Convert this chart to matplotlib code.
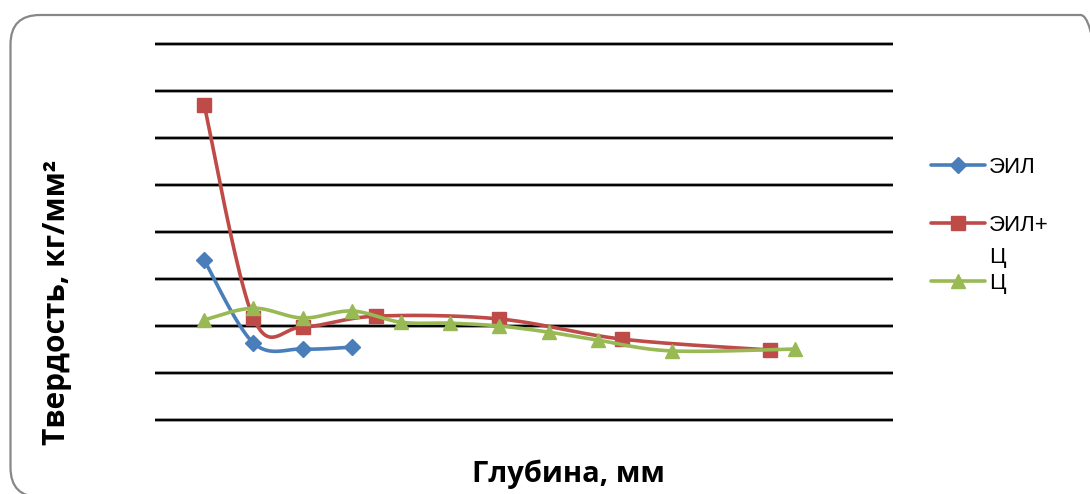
import numpy as np
import matplotlib
matplotlib.use("Agg")
import matplotlib.pyplot as plt
from matplotlib.patches import FancyBboxPatch
from matplotlib.lines import Line2D

# ---- data ----
series_names = ["ЭИЛ", "ЭИЛ+Ц", "Ц"]
eil_depth = [0.05, 0.10, 0.15, 0.20]
eil_hard = [340, 164, 151, 155]
eilc_depth = [0.05, 0.10, 0.15, 0.225, 0.35, 0.475, 0.625]
eilc_hard = [670, 217, 198, 221, 215, 172, 149]
c_depth = [0.05, 0.10, 0.15, 0.20, 0.25, 0.30, 0.35, 0.40, 0.45, 0.525, 0.65]
c_hard = [213, 238, 217, 232, 208, 206, 200, 187, 170, 147, 151]
y_ticks = [0, 100, 200, 300, 400, 500, 600, 700, 800]
x_label = "Глубина, мм"
y_label = "Твердость, кг/мм²"

colors = ["#4a7ebb", "#be4b48", "#98b954"]
markers = ["D", "s", "^"]
msizes = [8.5, 9.5, 10.5]

W, H = 1090, 494
fig = plt.figure(figsize=(W / 100, H / 100), dpi=100)

def fx(px):
    return px / W

def fy(py):
    return (H - py) / H

# outer rounded frame
frame = FancyBboxPatch((fx(10.5), fy(497)), fx(1110) - fx(10.5), fy(15) - fy(497),
                       boxstyle="round,pad=0,rounding_size=0.027",
                       transform=fig.transFigure, fill=False,
                       edgecolor="#878787", linewidth=1.6, clip_on=False,
                       mutation_aspect=W / H)
fig.patches.append(frame)

ax = fig.add_axes([fx(155), fy(420), fx(893) - fx(155), fy(44) - fy(420)])
ax.set_xlim(0, 0.75)
ax.set_ylim(0, 800)
for s in ax.spines.values():
    s.set_visible(False)
ax.set_xticks([])
ax.set_yticks([])
ax.patch.set_alpha(0)

# gridlines
ax.hlines(y_ticks, 0, 0.75, colors="#9a9a9a", linewidth=2.8, clip_on=False, zorder=1)
ax.hlines(y_ticks, 0, 0.75, colors="black", linewidth=1.4, clip_on=False, zorder=1.1)


def smooth(x, y, n=40):
    P = np.column_stack([x, y]).astype(float)
    Q = np.vstack([P[0], P, P[-1]])
    out = []
    for i in range(1, len(Q) - 2):
        p0, p1, p2, p3 = Q[i - 1], Q[i], Q[i + 1], Q[i + 2]
        c1 = p1 + (p2 - p0) / 6.0
        c2 = p2 - (p3 - p1) / 6.0
        t = np.linspace(0, 1, n)[:, None]
        b = ((1 - t) ** 3) * p1 + 3 * ((1 - t) ** 2) * t * c1 + 3 * (1 - t) * t ** 2 * c2 + t ** 3 * p2
        out.append(b if i == 1 else b[1:])
    B = np.vstack(out)
    return B[:, 0], B[:, 1]


data = [(eil_depth, eil_hard), (eilc_depth, eilc_hard), (c_depth, c_hard)]
for k, (xd, yd) in enumerate(data):
    sx, sy = smooth(xd, yd)
    ax.plot(sx, sy, color=colors[k], linewidth=2.6, zorder=3 + k, solid_capstyle="round")
    ax.plot(xd, yd, linestyle="none", marker=markers[k], markersize=msizes[k],
            color=colors[k], markeredgecolor=colors[k], zorder=3.5 + k)

# labels
fig.text(fx(568), fy(474), x_label, ha="center", va="center",
         fontsize=21, fontweight="bold", family="Open Sans")
fig.text(fx(57), fy(302), y_label, ha="center", va="center", rotation=90,
         fontsize=21.5, fontweight="bold", family="Open Sans")

# legend (manual)
leg_y = [165, 223, 281]
wrapped = ["ЭИЛ", "ЭИЛ+\nЦ", "Ц"]
for k in range(3):
    yy = fy(leg_y[k])
    fig.add_artist(Line2D([fx(931), fx(985)], [yy, yy], color=colors[k], linewidth=2.6,
                          transform=fig.transFigure, solid_capstyle="round"))
    fig.add_artist(Line2D([fx(958)], [yy], marker=markers[k], markersize=msizes[k],
                          color=colors[k], transform=fig.transFigure, linestyle="none"))
    for j, line in enumerate(wrapped[k].split("\n")):
        fig.text(fx(989), fy(leg_y[k] + 32 * j), line, ha="left", va="center_baseline",
                 fontsize=16, family="Liberation Sans")

fig.savefig("out.png", dpi=100)
